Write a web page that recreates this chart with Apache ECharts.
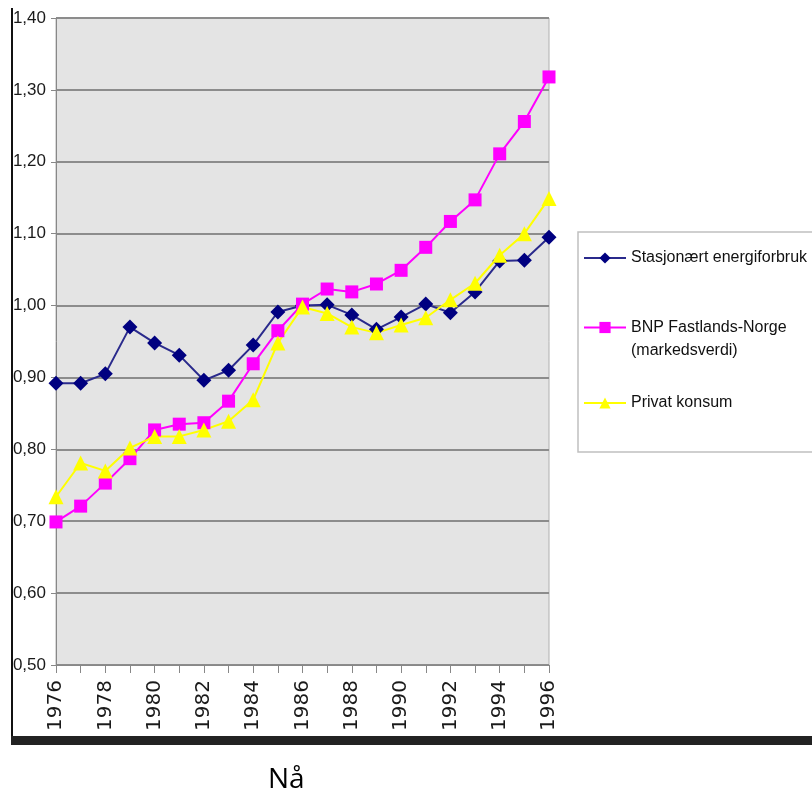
<!DOCTYPE html>
<html><head><meta charset="utf-8">
<script src="https://cdn.jsdelivr.net/npm/echarts@6/dist/echarts.min.js"></script>
<style>html,body{margin:0;padding:0;background:#fff}#c{width:812px;height:801px}</style>
</head><body><div id="c"></div>
<script>
const years = ['1976','1977','1978','1979','1980','1981','1982','1983','1984','1985','1986','1987','1988','1989','1990','1991','1992','1993','1994','1995','1996'];
const energi = [0.892,0.892,0.905,0.970,0.948,0.931,0.896,0.910,0.945,0.991,1.000,1.001,0.987,0.967,0.984,1.002,0.990,1.019,1.062,1.063,1.095];
const bnp = [0.699,0.721,0.753,0.787,0.827,0.835,0.837,0.867,0.919,0.965,1.002,1.023,1.019,1.030,1.049,1.081,1.117,1.147,1.211,1.256,1.318];
const konsum = [0.734,0.781,0.770,0.802,0.818,0.818,0.827,0.839,0.869,0.948,0.998,0.989,0.970,0.962,0.973,0.983,1.008,1.031,1.070,1.100,1.149];
const names = ['Stasjonært energiforbruk','BNP Fastlands-Norge','Privat konsum'];
const FONT = '"Liberation Sans",Arial,sans-serif';

const chart = echarts.init(document.getElementById('c'), null, {renderer:'canvas'});
const legendText = {fontFamily: FONT, fontSize: 16, color: '#111', lineHeight: 20};
chart.setOption({
  animation: false,
  backgroundColor: '#fff',
  grid: {left: 56, right: 263, top: 18, bottom: 136, show: true, backgroundColor: '#e4e4e4', borderColor: '#b0b0b0', borderWidth: 1},
  xAxis: {
    type: 'category', data: years, boundaryGap: false,
    axisLine: {lineStyle: {color: '#888', width: 1}},
    axisTick: {show: true, interval: 0, length: 8, lineStyle: {color: '#888'}},
    axisLabel: {interval: 1, rotate: 90, margin: 15, fontFamily: '"DejaVu Sans",sans-serif', fontSize: 20, color: '#1a1a1a'},
    splitLine: {show: false}
  },
  yAxis: {
    type: 'value', min: 0.5, max: 1.4, interval: 0.1,
    axisLine: {show: true, lineStyle: {color: '#888', width: 1}},
    axisTick: {show: true, length: 5, lineStyle: {color: '#888'}},
    axisLabel: {margin: 10, fontFamily: FONT, fontSize: 17, color: '#1a1a1a', formatter: v => v.toFixed(2).replace('.', ',')},
    splitLine: {show: true, lineStyle: {color: '#8c8c8c', width: 2}}
  },
  legend: [
    {data: [names[0]], orient: 'vertical', left: 583, top: 248, padding: 0, itemWidth: 42, itemHeight: 14, textStyle: legendText},
    {data: [names[1]], orient: 'vertical', left: 583, top: 293, padding: 0, itemWidth: 42, itemHeight: 14,
     textStyle: Object.assign({}, legendText, {lineHeight: 23}),
     formatter: () => '\nBNP Fastlands-Norge\n(markedsverdi)'},
    {data: [names[2]], orient: 'vertical', left: 583, top: 393, padding: 0, itemWidth: 42, itemHeight: 14, textStyle: legendText}
  ],
  series: [
    {name: names[0], type: 'line', data: energi, symbol: 'diamond', symbolSize: 15,
     itemStyle: {color: '#000080'}, lineStyle: {color: '#2a2a8c', width: 2}},
    {name: names[1], type: 'line', data: bnp, symbol: 'rect', symbolSize: 13,
     itemStyle: {color: '#ff00ff'}, lineStyle: {color: '#ff00ff', width: 2}},
    {name: names[2], type: 'line', data: konsum, symbol: 'triangle', symbolSize: 15,
     itemStyle: {color: '#ffff00'}, lineStyle: {color: '#ffff00', width: 2}}
  ],
  graphic: [
    {type: 'rect', shape: {x: 578, y: 232, width: 250, height: 220}, style: {fill: 'none', stroke: '#c0c0c0', lineWidth: 1.5}, z: 1},
    {type: 'rect', shape: {x: 11, y: 8, width: 2, height: 737}, style: {fill: '#111'}},
    {type: 'rect', shape: {x: 11, y: 736, width: 801, height: 9}, style: {fill: '#222'}},
    {type: 'text', left: 268, top: 766, style: {text: 'Nå', font: '28px "Open Sans","Noto Sans",sans-serif', fill: '#000'}}
  ]
});
</script></body></html>
